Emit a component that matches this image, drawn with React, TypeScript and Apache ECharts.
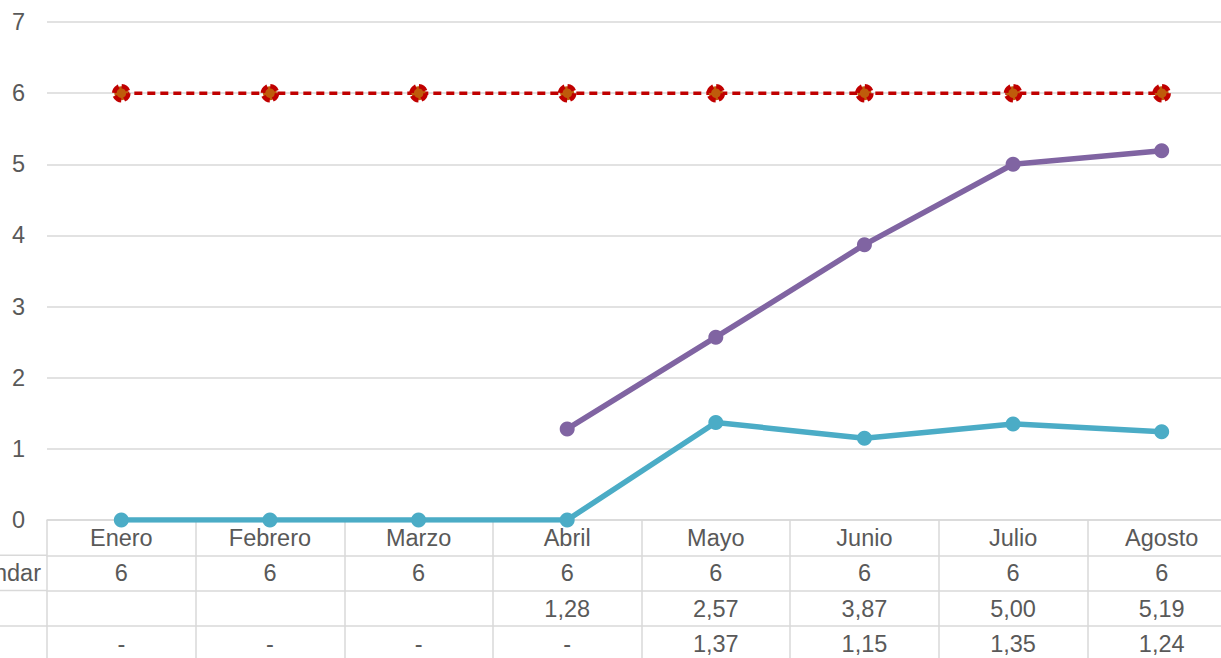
import React, { useEffect, useRef } from "react";
import * as echarts from "echarts";

const categories = ["Enero", "Febrero", "Marzo", "Abril", "Mayo", "Junio", "Julio", "Agosto"];
const standardValues = [6, 6, 6, 6, 6, 6, 6, 6];
const purpleValues: (number | null)[] = [null, null, null, 1.28, 2.57, 3.87, 5.0, 5.19];
const tealValues = [0, 0, 0, 0, 1.37, 1.15, 1.35, 1.24];
const yTicks = [0, 1, 2, 3, 4, 5, 6, 7];
const rowNames = ["Estándar", "", ""];

const FONT = "'Liberation Sans', Arial, sans-serif";
const TEXT = "#595959";
const GRID = "#d9d9d9";
const FS = 23.5;

const fmt2 = (v: number | null) => (v == null ? "" : v.toFixed(2).replace(".", ","));
const standardRow = standardValues.map((v) => String(v));
const purpleRow = purpleValues.map(fmt2);
const tealRow = tealValues.map((v) => (v === 0 ? "-" : fmt2(v)));

export default function App() {
  const ref = useRef<HTMLDivElement>(null);
  useEffect(() => {
    if (!ref.current) return;
    const chart = echarts.init(ref.current, null, { renderer: "svg" });
    const rowH = 35.3;
    const tableAxis = (row: string[], i: number) => ({
      type: "category",
      data: categories,
      position: "bottom",
      offset: rowH * (i + 1),
      axisLine: { show: true, lineStyle: { color: GRID, width: 1.5 } },
      axisTick: { show: false },
      axisLabel: {
        interval: 0,
        margin: 6,
        color: TEXT,
        fontSize: FS,
        fontFamily: FONT,
        formatter: (_v: string, idx: number) => row[idx],
      },
    });
    chart.setOption({
      animation: false,
      grid: { left: 47, right: 0, top: 22, bottom: 138 },
      xAxis: [
        {
          type: "category",
          data: categories,
          boundaryGap: true,
          axisLine: { show: true, lineStyle: { color: GRID, width: 1.5 } },
          axisTick: { show: true, interval: 0, length: 140, lineStyle: { color: GRID, width: 1.5 } },
          axisLabel: { interval: 0, margin: 6, color: TEXT, fontSize: FS, fontFamily: FONT },
          splitLine: { show: false },
        },
        tableAxis(standardRow, 0),
        tableAxis(purpleRow, 1),
        tableAxis(tealRow, 2),
      ],
      yAxis: {
        type: "value",
        min: yTicks[0],
        max: yTicks[yTicks.length - 1],
        interval: 1,
        axisLine: { show: false },
        axisTick: { show: false },
        axisLabel: { margin: 22, color: TEXT, fontSize: FS, fontFamily: FONT },
        splitLine: { lineStyle: { color: GRID, width: 1.5 } },
      },
      graphic: [
        ...[0, 1, 2].map((i) => ({
          type: "line",
          shape: { x1: 0, y1: 520 + rowH * (i + 1), x2: 47, y2: 520 + rowH * (i + 1) },
          style: { stroke: GRID, lineWidth: 1.5 },
        })),
        ...rowNames.map((name, i) => ({
          type: "text",
          x: 41,
          y: 520 + rowH * (i + 1) + rowH / 2,
          style: {
            text: name,
            align: "right",
            verticalAlign: "middle",
            fill: TEXT,
            fontSize: FS,
            fontFamily: FONT,
          },
        })),
      ],
      series: [
        {
          type: "line",
          name: "Estándar",
          data: standardValues,
          symbol: "circle",
          symbolSize: 14,
          lineStyle: { color: "#C00000", width: 3.5, type: [8, 5] },
          itemStyle: { color: "#BF5B0B", borderColor: "#C00000", borderWidth: 4.5, borderType: [8, 3] },
          z: 4,
        },
        {
          type: "line",
          name: "Serie 2",
          data: purpleValues,
          symbol: "circle",
          symbolSize: 15,
          lineStyle: { color: "#8064A2", width: 5.5 },
          itemStyle: { color: "#8064A2" },
          z: 3,
        },
        {
          type: "line",
          name: "Serie 3",
          data: tealValues,
          symbol: "circle",
          symbolSize: 15,
          lineStyle: { color: "#4BACC6", width: 5.5 },
          itemStyle: { color: "#4BACC6" },
          z: 3,
        },
      ],
    });
    return () => chart.dispose();
  }, []);
  return (
    <div
      ref={ref}
      style={{ position: "fixed", left: 0, top: 0, width: 1236, height: 658, background: "#fff" }}
    />
  );
}
